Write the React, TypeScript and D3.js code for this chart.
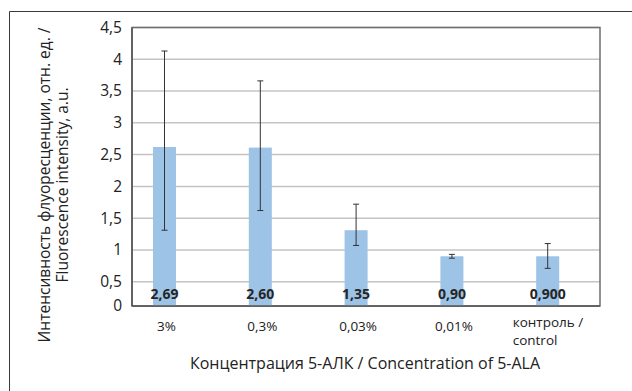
import React from "react";
import * as d3 from "d3";

const categories = ["3%", "0,3%", "0,03%", "0,01%", "контроль / control"];
const values = [2.62, 2.61, 1.31, 0.9, 0.9];
const valueLabels = ["2,69", "2,60", "1,35", "0,90", "0,900"];
const errLow = [1.31, 1.62, 1.07, 0.87, 0.71];
const errHigh = [4.13, 3.66, 1.72, 0.93, 1.1];
const yTicks = [0, 0.5, 1, 1.5, 2, 2.5, 3, 3.5, 4, 4.5];
const yTickLabels = ["0", "0,5", "1", "1,5", "2", "2,5", "3", "3,5", "4", "4,5"];

const W = 632;
const H = 391;
const left = 132;
const right = 600;
const top = 27.5;
const bottom = 306;
const FONT = "'Open Sans', 'Noto Sans', sans-serif";

export default function App() {
  // the original axis is compressed between 0 and 0.5
  const y = d3.scaleLinear().domain([0, 0.5, 4.5]).range([bottom, 281.7, top]);
  const x = d3.scalePoint<string>().domain(categories).range([164.5, 547.7]);
  const barW = 23;

  return (
    <svg width={W} height={H} style={{ position: "absolute", left: 0, top: 0, background: "#fff" }}>
      {/* outer frame */}
      <path d={`M9.5,${H} V11.5 H${W}`} fill="none" stroke="#3a3a3a" strokeWidth={1} />
      {/* gridlines */}
      {yTicks.slice(1).map((t) => (
        <line key={t} x1={left} x2={right} y1={y(t)} y2={y(t)} stroke="#c4c4c4" strokeWidth={1.5} />
      ))}
      {/* plot border */}
      <rect x={left} y={top} width={right - left} height={bottom - top} fill="none" stroke="#6e6e6e" strokeWidth={1.5} />
      {/* bars */}
      {categories.map((c, i) => (
        <rect key={c} x={x(c)! - barW / 2} y={y(values[i])} width={barW} height={bottom - y(values[i])} fill="#9DC3E6" />
      ))}
      {/* axes */}
      <line x1={left} x2={left} y1={top} y2={bottom} stroke="#555" strokeWidth={1.5} />
      <line x1={left} x2={right} y1={bottom} y2={bottom} stroke="#555" strokeWidth={1.5} />
      {/* error bars */}
      {categories.map((c, i) => {
        const cx = x(c)!;
        return (
          <g key={"e" + c} stroke="#333" strokeWidth={1}>
            <line x1={cx} x2={cx} y1={y(errLow[i])} y2={y(errHigh[i])} />
            <line x1={cx - 3} x2={cx + 3} y1={y(errLow[i])} y2={y(errLow[i])} />
            <line x1={cx - 3} x2={cx + 3} y1={y(errHigh[i])} y2={y(errHigh[i])} />
          </g>
        );
      })}
      {/* value labels */}
      {categories.map((c, i) => (
        <text key={"v" + c} x={x(c)!} y={298.5} textAnchor="middle" fontFamily={FONT} fontWeight="bold" fontSize={14} fill="#262626">
          {valueLabels[i]}
        </text>
      ))}
      {/* y tick labels */}
      {yTicks.map((t, i) => (
        <text key={"t" + t} x={122} y={y(t)} dy="0.35em" textAnchor="end" fontFamily={FONT} fontSize={15.5} fill="#222">
          {yTickLabels[i]}
        </text>
      ))}
      {/* x tick labels */}
      {categories.map((c, i) => {
        const cx = x(c)!;
        if (i === categories.length - 1) {
          return (
            <text key={"x" + c} x={cx - 35} y={327} textAnchor="start" fontFamily={FONT} fontSize={13.5} fill="#222">
              <tspan x={cx - 35} dy="0">контроль /</tspan>
              <tspan x={cx - 35} dy="18">control</tspan>
            </text>
          );
        }
        return (
          <text key={"x" + c} x={cx + 2} y={331} textAnchor="middle" fontFamily={FONT} fontSize={13.5} fill="#222">
            {c}
          </text>
        );
      })}
      {/* x axis title */}
      <text x={365} y={368.5} textAnchor="middle" fontFamily={FONT} fontSize={16} fill="#222">
        Концентрация 5-АЛК / Concentration of 5-ALA
      </text>
      {/* y axis title */}
      <g transform="translate(0,185) rotate(-90)">
        <text x={0} y={49.5} textAnchor="middle" fontFamily={FONT} fontSize={15.5} fill="#222">
          Интенсивность флуоресценции, отн. ед. /
        </text>
        <text x={0} y={68} textAnchor="middle" fontFamily={FONT} fontSize={15.5} fill="#222">
          Fluorescence intensity, a.u.
        </text>
      </g>
    </svg>
  );
}
